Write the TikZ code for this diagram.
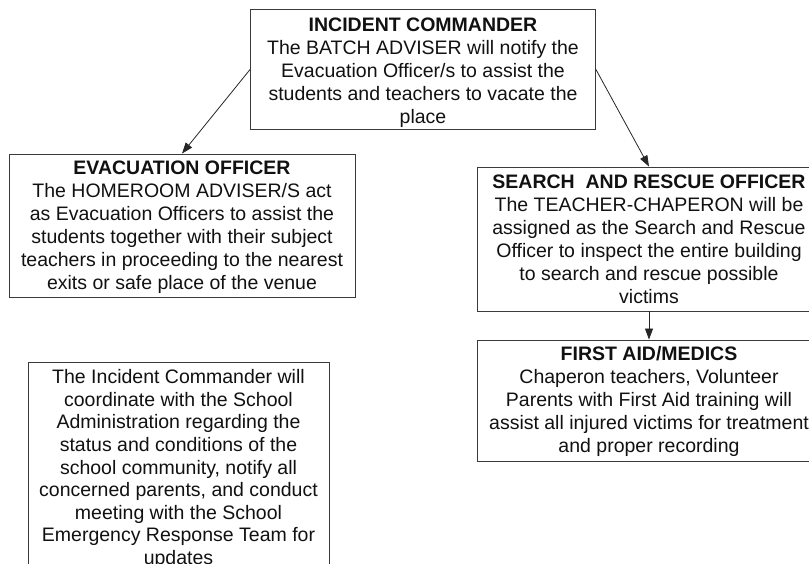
\documentclass[tikz,border=0pt]{standalone}
\usepackage{fontspec}
\setmainfont{Liberation Sans}
\usetikzlibrary{arrows.meta}
\definecolor{boxline}{HTML}{3A3A3A}
\definecolor{txt}{HTML}{111111}
\tikzset{
  box/.style={draw=boxline, line width=0.9pt, fill=white, inner sep=0pt},
  boxtext/.style={align=center, inner sep=0pt, text=txt, font=\fontsize{19.5}{23}\selectfont},
  arr/.style={draw=black!85, line width=0.8pt, -{Triangle[length=11pt,width=8pt]}},
}
\begin{document}
\begin{tikzpicture}[x=1pt,y=-1pt]
\useasboundingbox (0,0) rectangle (809,564);
\node[box, minimum width=345, minimum height=120] (ic) at (423,69.5) {};
\node[boxtext] (ict) at ([yshift=-3pt]ic.center)
  {\textbf{INCIDENT COMMANDER}\\The BATCH ADVISER will notify the\\Evacuation Officer/s to assist the\\students and teachers to vacate the\\place};
\node[box, minimum width=346, minimum height=143] (evac) at (182,225.5) {};
\node[boxtext] (evact) at ([yshift=-2pt]evac.center)
  {\textbf{EVACUATION OFFICER}\\The HOMEROOM ADVISER/S act\\as Evacuation Officers to assist the\\students together with their subject\\teachers in proceeding to the nearest\\exits or safe place of the venue};
\node[box, minimum width=344, minimum height=144] (sar) at (649,239) {};
\node[boxtext] (sart) at ([yshift=-0.5pt]sar.center)
  {\textbf{SEARCH\ \ AND RESCUE OFFICER}\\The TEACHER-CHAPERON will be\\assigned as the Search and Rescue\\Officer to inspect the entire building\\to search and rescue possible\\victims};
\node[box, minimum width=344, minimum height=121] (fa) at (649,400.5) {};
\node[boxtext] (fat) at ([yshift=-1pt]fa.center)
  {\textbf{FIRST AID/MEDICS}\\Chaperon teachers, Volunteer\\Parents with First Aid training will\\assist all injured victims for treatment\\and proper recording};
\node[box, minimum width=301, minimum height=218] (note) at (178.5,471) {};
\node[boxtext, font=\fontsize{19.5}{22.6}\selectfont] (notet) at ([yshift=2pt]note.center)
  {The Incident Commander will\\coordinate with the School\\Administration regarding the\\status and conditions of the\\school community, notify all\\concerned parents, and conduct\\meeting with the School\\Emergency Response Team for\\updates};
\draw[arr] (ic.west) -- (evac.north);
\draw[arr] (ic.east) -- (sar.north);
\draw[arr] (sar.south) -- (fa.north);
\end{tikzpicture}
\end{document}
